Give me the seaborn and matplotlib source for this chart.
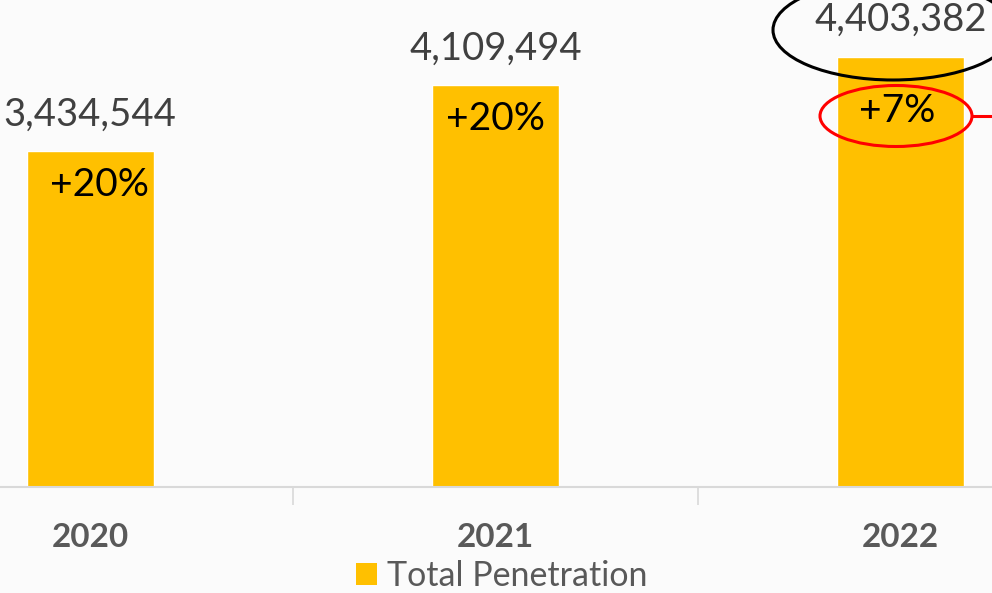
import matplotlib
matplotlib.use("Agg")
import matplotlib.pyplot as plt
import seaborn as sns
import pandas as pd
from matplotlib.patches import Ellipse, Rectangle
from matplotlib.lines import Line2D

years = ["2020", "2021", "2022"]
totals = [3434544, 4109494, 4403382]
growth = ["+20%", "+20%", "+7%"]
series_name = "Total Penetration"

sns.set_theme(style="white")
plt.rcParams["font.family"] = ["Lato", "DejaVu Sans"]

GOLD = "#FFC000"
BG = "#fbfbfb"

df = pd.DataFrame({"year": years, "total": totals})

fig = plt.figure(figsize=(9.92, 5.93), dpi=100, facecolor=BG)
ax = fig.add_axes([0, 106 / 593, 1, 487 / 593])
ax.set_facecolor(BG)

sns.barplot(data=df, x="year", y="total", color=GOLD, width=0.3126,
            saturation=1, ax=ax)

ax.set_xlim(-0.2226, 2.225)
ax.set_ylim(0, 4.983e6)
ax.set_xlabel("")
ax.set_ylabel("")
ax.set_yticks([])
for side in ("left", "right", "top"):
    ax.spines[side].set_visible(False)
ax.spines["bottom"].set_color("#d9d9d9")
ax.spines["bottom"].set_linewidth(1.5)

# category labels, with tick marks between categories
ax.set_xticks(range(len(years)))
ax.set_xticklabels(years, fontsize=24, fontweight="bold", color="#595959")
ax.tick_params(axis="x", which="major", length=0, pad=26)
ax.set_xticks([0.5, 1.5], minor=True)
ax.tick_params(axis="x", which="minor", bottom=True, length=13, width=1.2,
               color="#d9d9d9", direction="out")

# value labels above the bars and growth labels inside them
growth_dx = [9, 0, -4]
growth_dy = [-34, -34, -54]
for i, (v, g) in enumerate(zip(totals, growth)):
    ax.annotate(f"{v:,}", xy=(i, v), xytext=(0, 37), textcoords="offset pixels",
                ha="center", va="center", fontsize=27.5, color="#404040",
                annotation_clip=False)
    ax.annotate(g, xy=(i, v), xytext=(growth_dx[i], growth_dy[i]),
                textcoords="offset pixels", ha="center", va="center",
                fontsize=28, color="black", annotation_clip=False)

# highlight marks around the latest year's figures
def px(x, y):
    return (x / 992, 1 - y / 593)

fig.patches.append(Ellipse(px(893, 30), 240 / 992, 100 / 593, fill=False,
                           edgecolor="black", linewidth=2.2,
                           transform=fig.transFigure, figure=fig))
fig.patches.append(Ellipse(px(896, 116), 152 / 992, 61 / 593, fill=False,
                           edgecolor="#ff0000", linewidth=2.2,
                           transform=fig.transFigure, figure=fig))
fig.lines.append(Line2D([972 / 992, 1.0], [1 - 116 / 593, 1 - 116 / 593],
                        color="#ff0000", linewidth=2.2,
                        transform=fig.transFigure, figure=fig))

# legend below the axis
handle = Rectangle((0, 0), 1, 1, facecolor=GOLD, edgecolor="none")
fig.legend([handle], [series_name], loc="center",
           bbox_to_anchor=(502 / 992, 1 - 576 / 593), frameon=False,
           fontsize=24.5, labelcolor="#595959", handlelength=0.62,
           handleheight=0.62, handletextpad=0.3, borderpad=0, borderaxespad=0)

fig.savefig("out.png", dpi=100, facecolor=BG)
